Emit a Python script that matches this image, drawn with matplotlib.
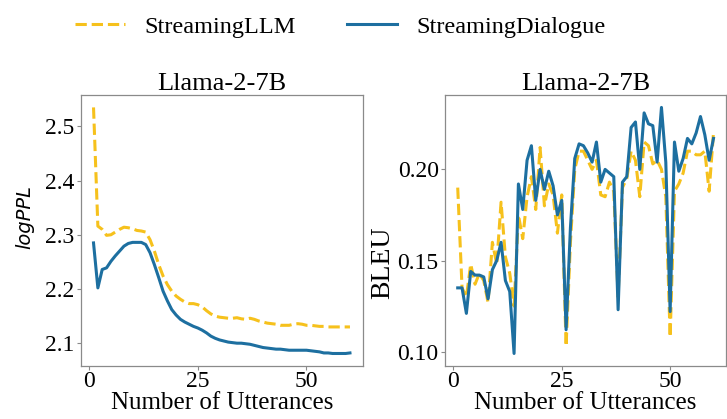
import matplotlib
matplotlib.use("Agg")
import matplotlib.pyplot as plt
import numpy as np

plt.rcParams['font.family'] = ['Liberation Serif', 'DejaVu Serif']

# utterance index
utterances = np.arange(1, 61)

# logPPL, Llama-2-7B
ppl_llm = [2.535, 2.316, 2.310, 2.299, 2.300, 2.305, 2.310, 2.314, 2.313, 2.311,
           2.308, 2.307, 2.305, 2.291, 2.270, 2.245, 2.224, 2.208, 2.196, 2.187,
           2.181, 2.176, 2.173, 2.173, 2.171, 2.167, 2.160, 2.154, 2.150, 2.148,
           2.147, 2.146, 2.146, 2.147, 2.145, 2.144, 2.146, 2.144, 2.141, 2.139,
           2.137, 2.136, 2.135, 2.133, 2.133, 2.133, 2.135, 2.136, 2.135, 2.133,
           2.133, 2.132, 2.131, 2.131, 2.130, 2.130, 2.130, 2.130, 2.130, 2.130]
ppl_dialogue = [2.285, 2.202, 2.236, 2.239, 2.251, 2.261, 2.270, 2.279, 2.284, 2.286,
                2.286, 2.286, 2.282, 2.267, 2.245, 2.221, 2.196, 2.178, 2.162, 2.152,
                2.144, 2.139, 2.135, 2.131, 2.128, 2.124, 2.119, 2.113, 2.109, 2.106,
                2.104, 2.102, 2.101, 2.100, 2.100, 2.099, 2.098, 2.096, 2.094, 2.092,
                2.091, 2.090, 2.089, 2.089, 2.088, 2.087, 2.087, 2.087, 2.087, 2.087,
                2.086, 2.085, 2.084, 2.082, 2.082, 2.081, 2.081, 2.081, 2.081, 2.082]

# BLEU, Llama-2-7B
bleu_llm = [0.190, 0.135, 0.130, 0.148, 0.137, 0.143, 0.139, 0.127, 0.160, 0.148,
            0.182, 0.152, 0.143, 0.125, 0.175, 0.162, 0.185, 0.196, 0.178, 0.212,
            0.180, 0.192, 0.186, 0.165, 0.186, 0.103, 0.160, 0.200, 0.210, 0.210,
            0.205, 0.200, 0.205, 0.186, 0.185, 0.193, 0.188, 0.130, 0.190, 0.195,
            0.210, 0.205, 0.185, 0.215, 0.213, 0.203, 0.205, 0.200, 0.185, 0.108,
            0.188, 0.192, 0.198, 0.210, 0.210, 0.208, 0.208, 0.210, 0.188, 0.220]
bleu_dialogue = [0.135, 0.135, 0.121, 0.144, 0.142, 0.142, 0.141, 0.129, 0.145, 0.150,
                 0.160, 0.139, 0.133, 0.099, 0.192, 0.178, 0.205, 0.213, 0.183, 0.200,
                 0.189, 0.199, 0.191, 0.175, 0.183, 0.112, 0.168, 0.206, 0.214, 0.213,
                 0.209, 0.204, 0.215, 0.193, 0.200, 0.198, 0.196, 0.123, 0.193, 0.196,
                 0.223, 0.226, 0.200, 0.231, 0.225, 0.224, 0.204, 0.234, 0.204, 0.122,
                 0.215, 0.199, 0.206, 0.217, 0.214, 0.220, 0.229, 0.219, 0.205, 0.217]

YELLOW = '#F6C11C'
BLUE = '#1D6FA0'
SPINE = '#8a8a8a'

fig = plt.figure(figsize=(7.27, 4.19), dpi=100)
ax1 = fig.add_axes([0.111, 0.127, 0.388, 0.646])
ax2 = fig.add_axes([0.612, 0.127, 0.387, 0.646])

for ax, y_llm, y_dlg in [(ax1, ppl_llm, ppl_dialogue), (ax2, bleu_llm, bleu_dialogue)]:
    ax.plot(utterances, y_llm, '--', color=YELLOW, lw=2.2, label='StreamingLLM')
    ax.plot(utterances, y_dlg, '-', color=BLUE, lw=2.2, label='StreamingDialogue')
    ax.set_title('Llama-2-7B', fontsize=19, pad=3)
    ax.set_xlabel('Number of Utterances', fontsize=18, labelpad=0)
    ax.set_xticks([0, 25, 50])
    ax.tick_params(labelsize=17, length=3, width=0.8, color=SPINE, pad=1.5)
    ax.tick_params(axis='x', pad=0.5)
    for s in ax.spines.values():
        s.set_color(SPINE)
        s.set_linewidth(0.9)

ax1.set_yticks([2.1, 2.2, 2.3, 2.4, 2.5])
ax1.set_ylabel('logPPL', fontsize=14, family='DejaVu Sans', style='italic')
ax1.yaxis.set_label_coords(-0.165, 0.55)
ax2.set_yticks([0.10, 0.15, 0.20])
ax2.set_yticklabels(['0.10', '0.15', '0.20'])
ax2.set_ylabel('BLEU', fontsize=20)
ax2.yaxis.set_label_coords(-0.175, 0.38)

handles, labels = ax1.get_legend_handles_labels()
fig.legend(handles, labels, loc='upper center', bbox_to_anchor=(0.468, 1.015), ncol=2,
           frameon=False, fontsize=17.5, handlelength=2.05, handletextpad=0.8,
           columnspacing=2.1)

fig.savefig('out.png', dpi=100)
